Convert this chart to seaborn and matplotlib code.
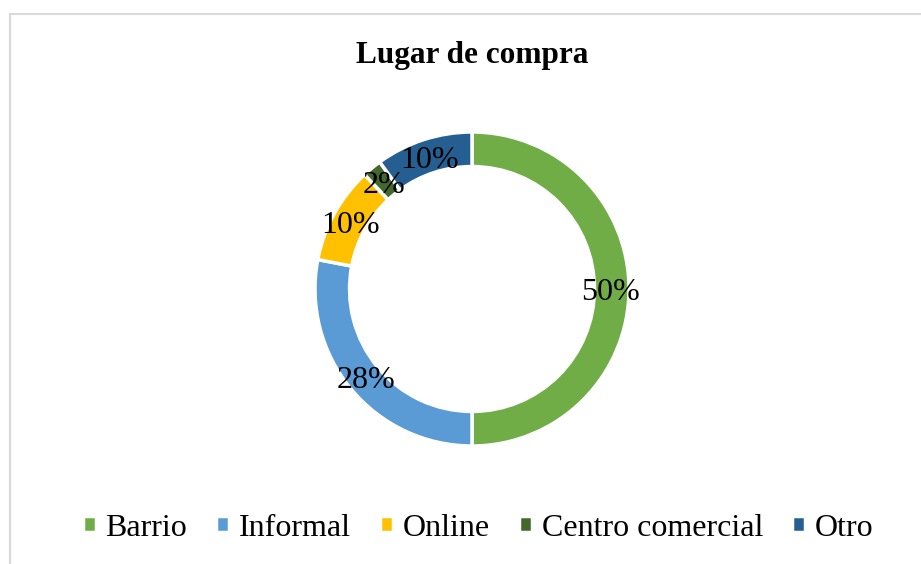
import matplotlib
matplotlib.use("Agg")
import matplotlib.pyplot as plt
import seaborn as sns
from matplotlib.patches import Rectangle

# datos del grafico
categorias = ['Barrio', 'Informal', 'Online', 'Centro comercial', 'Otro']
porcentajes = [50, 28, 10, 2, 10]
colores = ['#70AD47', '#5B9BD5', '#FFC000', '#43682B', '#255E91']
titulo = 'Lugar de compra'

sns.set_theme(style="white")
plt.rcParams['font.family'] = ['Liberation Serif', 'DejaVu Serif']
plt.rcParams['text.color'] = 'black'

W, H = 921, 564
fig = plt.figure(figsize=(W / 100, H / 100), dpi=100)

# marco gris del grafico
fig.patches.append(Rectangle((10 / W, -0.1), 1.0, 1 - 14 / H + 0.1, transform=fig.transFigure,
                             fill=False, edgecolor='#d9d9d9', linewidth=1.5))

cx, cy, r = 472, 289, 157
ax = fig.add_axes([(cx - r) / W, (H - cy - r) / H, 2 * r / W, 2 * r / H])

wedges, texts, autotexts = ax.pie(
    porcentajes, colors=colores, startangle=90, counterclock=False,
    autopct='%1.0f%%', pctdistance=0.88,
    wedgeprops=dict(width=0.22, edgecolor='white', linewidth=2.5),
    textprops=dict(fontsize=23, color='black'))
# bajar un poco las etiquetas
for t in autotexts:
    x, y = t.get_position()
    t.set_position((x, y - 0.02))
ax.set_xlim(-1, 1)
ax.set_ylim(-1, 1)
ax.set_aspect('equal')

fig.text(cx / W, 1 - 56 / H, titulo, ha='center', va='center', fontsize=22.5,
         fontweight='bold', color='black')

fig.legend(wedges, categorias, loc='center', bbox_to_anchor=(478 / W, 1 - 528 / H), ncol=5,
           frameon=False, fontsize=23, handlelength=0.42, handleheight=0.42,
           handletextpad=0.3, columnspacing=0.9, labelcolor='black')

fig.savefig('out.png', dpi=100)
